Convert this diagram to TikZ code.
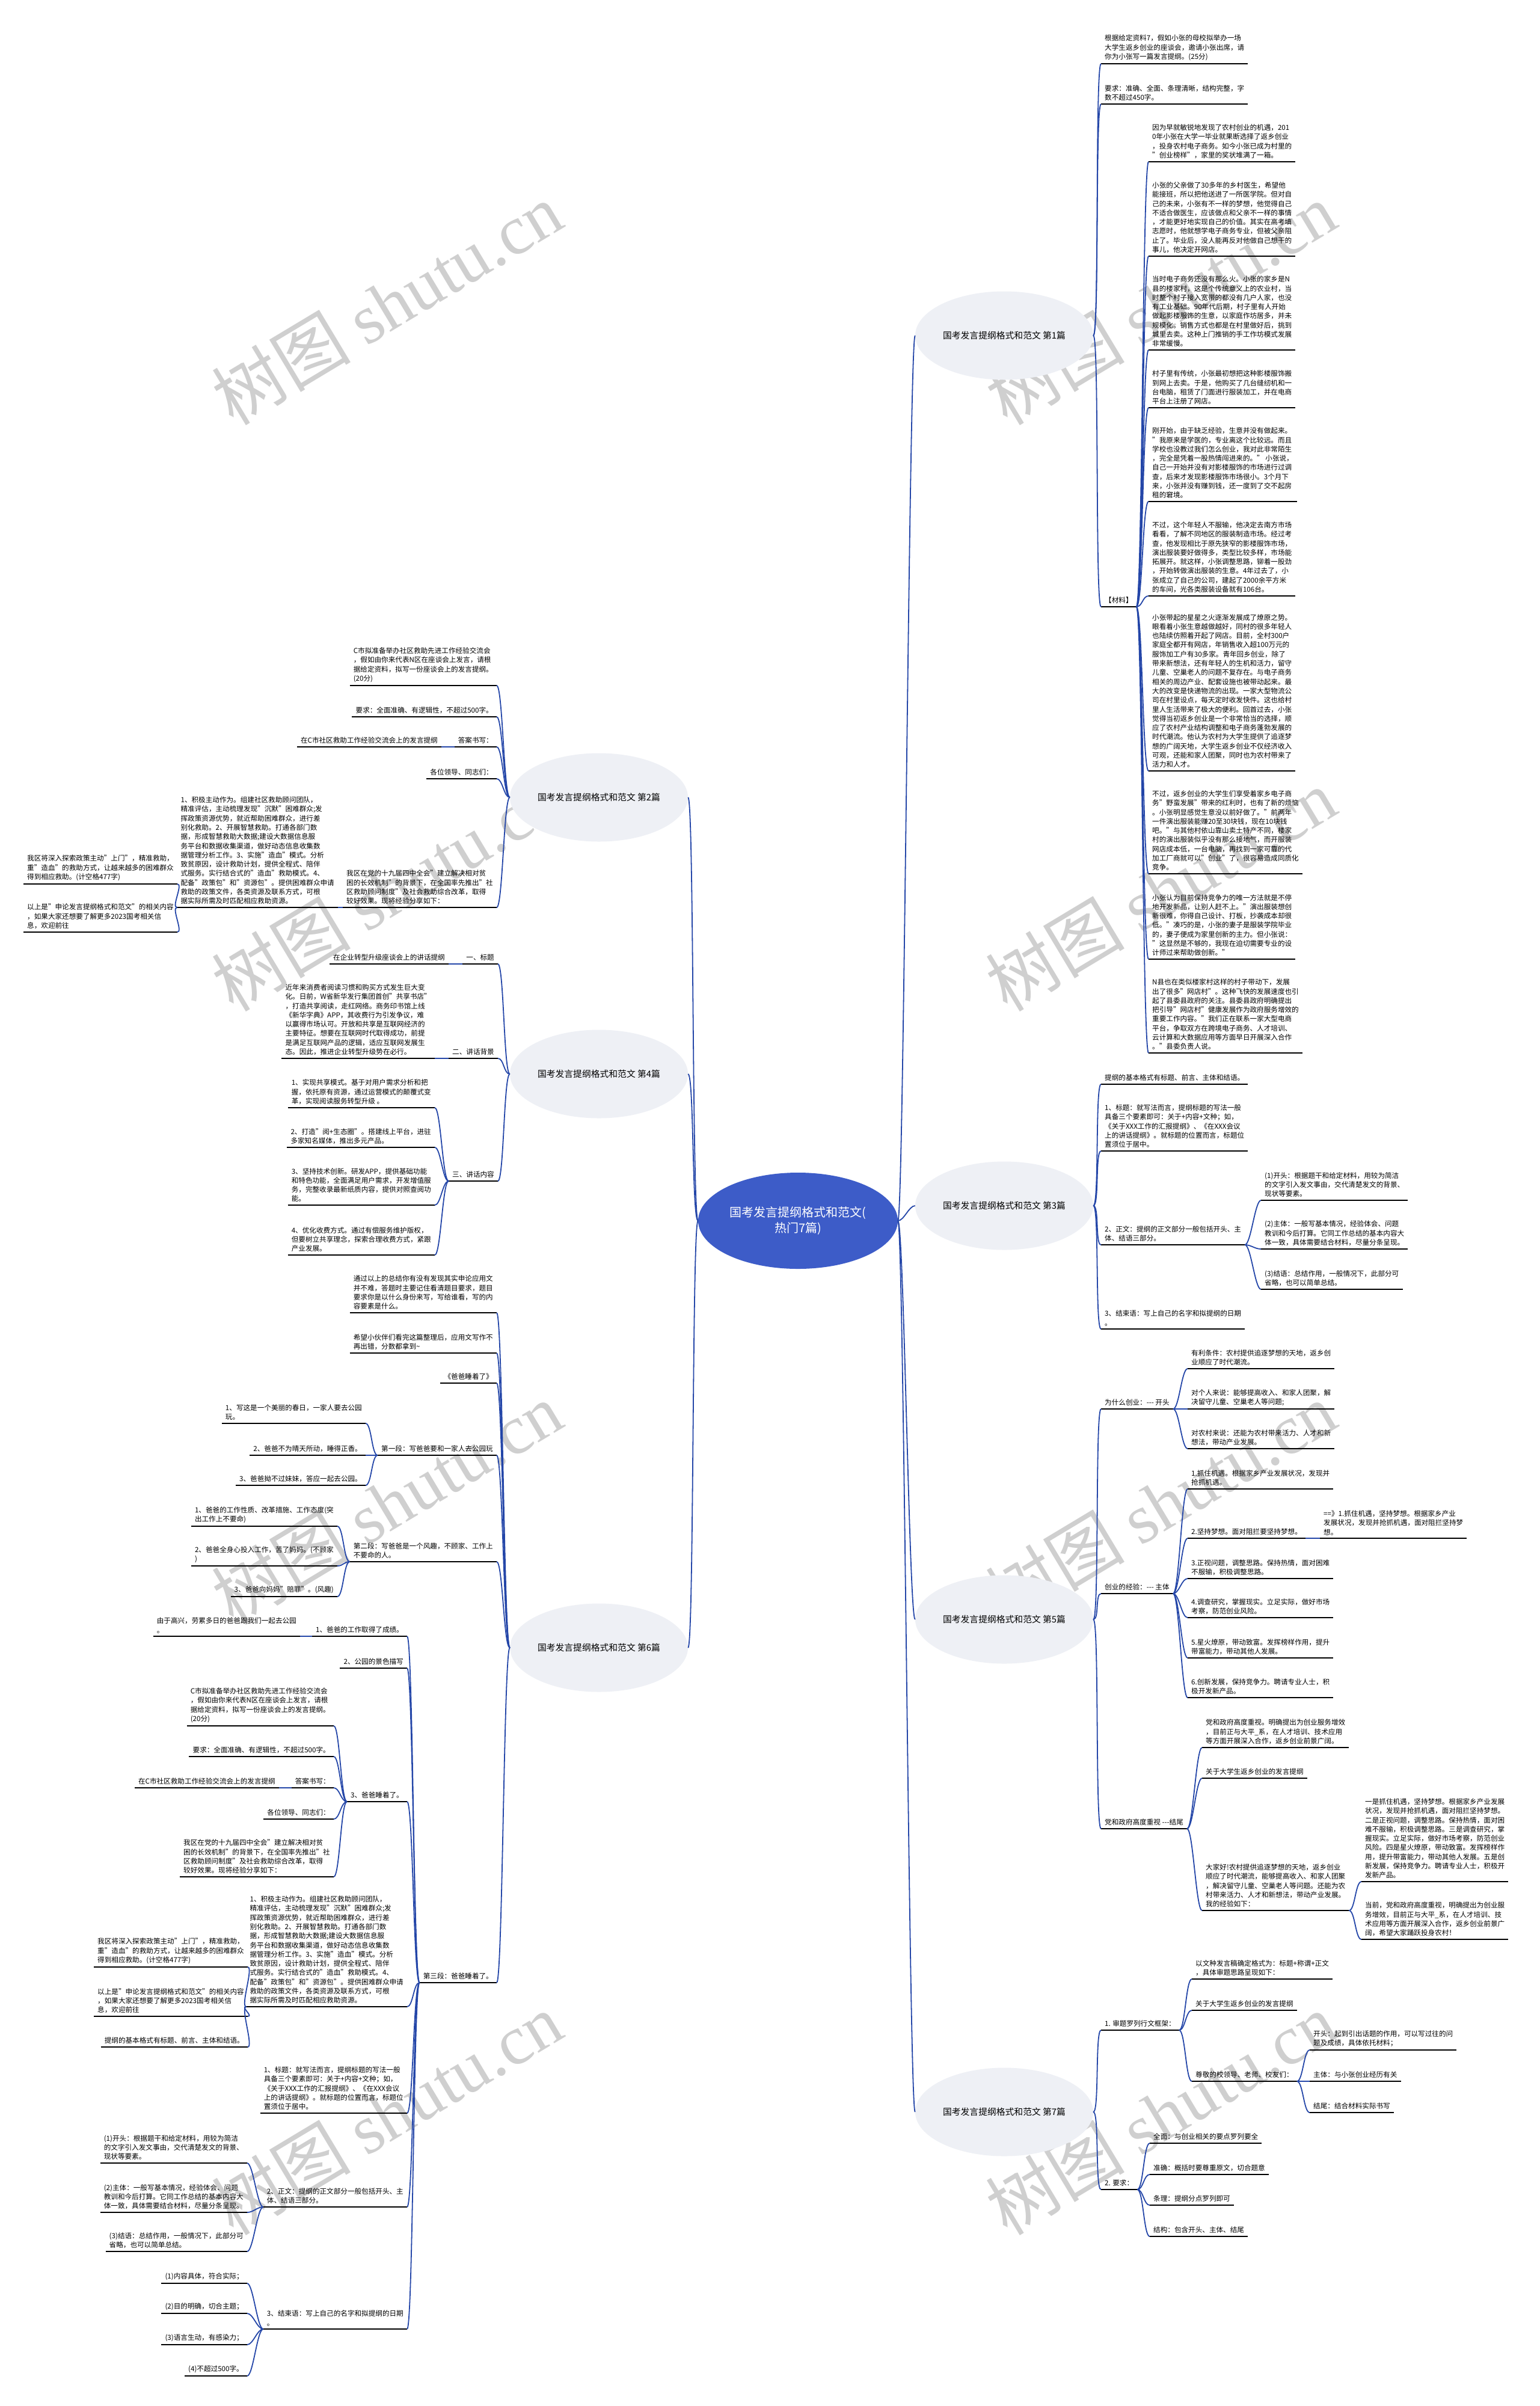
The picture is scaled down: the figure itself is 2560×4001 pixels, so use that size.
\documentclass[tikz,border=0pt]{standalone}
\usepackage{fontspec}
\setmainfont{Noto Sans CJK SC}
\newfontfamily\wmfont{Liberation Serif}
\usetikzlibrary{shapes.geometric}

\definecolor{rootblue}{HTML}{3D5CC8}
\definecolor{pianfill}{HTML}{EEF0F5}
\definecolor{linkblue}{HTML}{2446A8}

\newcommand{\tgGeshi}{提纲的基本格式有标题、前言、主体和结语。}
\newcommand{\tgBiaoti}{1、标题：就写法而言，提纲标题的写法一般\\
具备三个要素即可：关于+内容+文种；如，\\
《关于XXX工作的汇报提纲》、《在XXX会议\\
上的讲话提纲》。就标题的位置而言，标题位\\
置须位于居中。}
\newcommand{\tgZhengwen}{2、正文：提纲的正文部分一般包括开头、主\\
体、结语三部分。}
\newcommand{\tgKaitou}{(1)开头：根据题干和给定材料，用较为简洁\\
的文字引入发文事由，交代清楚发文的背景、\\
现状等要素。}
\newcommand{\tgZhuti}{(2)主体：一般写基本情况，经验体会、问题\\
教训和今后打算。它同工作总结的基本内容大\\
体一致，具体需要结合材料，尽量分条呈现。}
\newcommand{\tgJieyu}{(3)结语：总结作用，一般情况下，此部分可\\
省略，也可以简单总结。}
\newcommand{\tgJieshu}{3、结束语：写上自己的名字和拟提纲的日期\\
。}
\newcommand{\czTimu}{C市拟准备举办社区救助先进工作经验交流会\\
，假如由你来代表N区在座谈会上发言，请根\\
据给定资料，拟写一份座谈会上的发言提纲。\\
(20分)}
\newcommand{\czYaoqiu}{要求：全面准确、有逻辑性，不超过500字。}
\newcommand{\czTigang}{在C市社区救助工作经验交流会上的发言提纲}
\newcommand{\czBeijing}{我区在党的十九届四中全会"建立解决相对贫\\
困的长效机制"的背景下，在全国率先推出"社\\
区救助顾问制度"及社会救助综合改革，取得\\
较好效果。现将经验分享如下：}
\newcommand{\czJiji}{1、积极主动作为。组建社区救助顾问团队，\\
精准评估，主动梳理发现"沉默"困难群众;发\\
挥政策资源优势，就近帮助困难群众，进行差\\
别化救助。2、开展智慧救助。打通各部门数\\
据，形成智慧救助大数据;建设大数据信息服\\
务平台和数据收集渠道，做好动态信息收集数\\
据管理分析工作。3、实施"造血"模式。分析\\
致贫原因，设计救助计划，提供全程式、陪伴\\
式服务。实行结合式的"造血"救助模式。4、\\
配备"政策包"和"资源包"。提供困难群众申请\\
救助的政策文件，各类资源及联系方式，可根\\
据实际所需及时匹配相应救助资源。}
\newcommand{\czShenru}{我区将深入探索政策主动"上门"，精准救助，\\
重"造血"的救助方式，让越来越多的困难群众\\
得到相应救助。(计空格477字)}
\newcommand{\czYishang}{以上是"申论发言提纲格式和范文"的相关内容\\
，如果大家还想要了解更多2023国考相关信\\
息，欢迎前往}

\tikzset{
  root/.style={ellipse, fill=rootblue, text=white, minimum width=332pt,
    minimum height=160pt, inner sep=0pt, align=center,
    font=\fontsize{20}{26}\selectfont},
  pian/.style={ellipse, fill=pianfill, minimum width=296pt,
    minimum height=147pt, inner sep=0pt, font=\fontsize{14.8}{18}\selectfont},
  uline/.style={draw=black, line width=2pt},
  txt/.style={align=left, inner xsep=6pt, inner ysep=5pt,
    font=\fontsize{11.6}{15.3}\selectfont,
    append after command={(\tikzlastnode.south west) edge[uline] (\tikzlastnode.south east)}},
  txtR/.style={txt, anchor=south west},
  txtL/.style={txt, anchor=south east},
  link/.style={draw=linkblue, line width=1.8pt},
  linkR/.style={link, to path={.. controls +(10,0) and +(-10,0) .. (\tikztotarget)}},
  linkL/.style={link, to path={.. controls +(-10,0) and +(10,0) .. (\tikztotarget)}},
  wmark/.style={rotate=31, text=black!19, inner sep=0pt,
    font=\fontsize{116}{116}\selectfont}
}

\begin{document}
\begin{tikzpicture}[x=1pt,y=-1pt]

\fill[white] (0,0) rectangle (2560,4001);
\useasboundingbox (0,0) rectangle (2560,4001);

% watermark
\foreach \wx/\wy in {643/505,1930/505,643/1480,1930/1480,643/2500,1930/2500,643/3515,1930/3515}
  \node[wmark] at (\wx,\wy) {树图 {\wmfont shutu.cn}};

% centre and the seven branches
\node[root] (root) at (1327,2030) {国考发言提纲格式和范文(\\热门7篇)};
\node[pian] (p1) at (1670,558) {国考发言提纲格式和范文 第1篇};
\node[pian] (p3) at (1670,2005) {国考发言提纲格式和范文 第3篇};
\node[pian] (p5) at (1670,2693) {国考发言提纲格式和范文 第5篇};
\node[pian] (p7) at (1670,3512) {国考发言提纲格式和范文 第7篇};
\node[pian] (p2) at (996,1326) {国考发言提纲格式和范文 第2篇};
\node[pian] (p4) at (996,1786) {国考发言提纲格式和范文 第4篇};
\node[pian] (p6) at (996,2740) {国考发言提纲格式和范文 第6篇};

\foreach \c in {p1,p3,p5,p7} \draw[linkR] (root.east) to (\c.west);
\foreach \c in {p2,p4,p6} \draw[linkL] (root.west) to (\c.east);

% ---- 第1篇
\node[txtR] (p1a) at (1831,106) {根据给定资料7，假如小张的母校拟举办一场\\
大学生返乡创业的座谈会，邀请小张出席，请\\
你为小张写一篇发言提纲。(25分)};
\node[txtR] (p1b) at (1831,173) {要求：准确、全面、条理清晰，结构完整，字\\
数不超过450字。};
\node[txtR] (p1m) at (1831,1009) {【材料】};

\node[txtR] (m1) at (1910,269) {因为早就敏锐地发现了农村创业的机遇，201\\
0年小张在大学一毕业就果断选择了返乡创业\\
，投身农村电子商务。如今小张已成为村里的\\
"创业榜样"，家里的奖状堆满了一箱。};
\node[txtR] (m2) at (1910,426) {小张的父亲做了30多年的乡村医生，希望他\\
能接班，所以把他送进了一所医学院。但对自\\
己的未来，小张有不一样的梦想，他觉得自己\\
不适合做医生，应该做点和父亲不一样的事情\\
，才能更好地实现自己的价值。其实在高考填\\
志愿时，他就想学电子商务专业，但被父亲阻\\
止了。毕业后，没人能再反对他做自己想干的\\
事儿，他决定开网店。};
\node[txtR] (m3) at (1910,582) {当时电子商务还没有那么火。小张的家乡是N\\
县的楼家村，这是个传统意义上的农业村，当\\
时整个村子接入宽带的都没有几户人家，也没\\
有工业基础。90年代后期，村子里有人开始\\
做起影楼服饰的生意，以家庭作坊居多，并未\\
规模化。销售方式也都是在村里做好后，挑到\\
城里去卖。这种上门推销的手工作坊模式发展\\
非常缓慢。};
\node[txtR] (m4) at (1910,678) {村子里有传统，小张最初想把这种影楼服饰搬\\
到网上去卖。于是，他购买了几台缝纫机和一\\
台电脑，租赁了门面进行服装加工，并在电商\\
平台上注册了网店。};
\node[txtR] (m5) at (1910,834) {刚开始，由于缺乏经验，生意并没有做起来。\\
"我原来是学医的，专业离这个比较远。而且\\
学校也没教过我们怎么创业，我对此非常陌生\\
，完全是凭着一股热情闯进来的。" 小张说，\\
自己一开始并没有对影楼服饰的市场进行过调\\
查，后来才发现影楼服饰市场很小。3个月下\\
来，小张并没有赚到钱，还一度到了交不起房\\
租的窘境。};
\node[txtR] (m6) at (1910,991) {不过，这个年轻人不服输，他决定去南方市场\\
看看，了解不同地区的服装制造市场。经过考\\
查，他发现相比于原先狭窄的影楼服饰市场，\\
演出服装要好做得多，类型比较多样，市场能\\
拓展开。就这样，小张调整思路，铆着一股劲\\
，开始转做演出服装的生意。4年过去了，小\\
张成立了自己的公司，建起了2000余平方米\\
的车间，光各类服装设备就有106台。};
\node[txtR] (m7) at (1910,1282) {小张带起的星星之火逐渐发展成了燎原之势。\\
眼看着小张生意越做越好，同村的很多年轻人\\
也陆续仿照着开起了网店。目前，全村300户\\
家庭全都开有网店，年销售收入超100万元的\\
服饰加工户有30多家。青年回乡创业，除了\\
带来新想法，还有年轻人的生机和活力，留守\\
儿童、空巢老人的问题不复存在。与电子商务\\
相关的周边产业、配套设施也被带动起来。最\\
大的改变是快递物流的出现。一家大型物流公\\
司在村里设点，每天定时收发快件。这也给村\\
里人生活带来了极大的便利。回首过去，小张\\
觉得当初返乡创业是一个非常恰当的选择，顺\\
应了农村产业结构调整和电子商务蓬勃发展的\\
时代潮流。他认为农村为大学生提供了追逐梦\\
想的广阔天地，大学生返乡创业不仅经济收入\\
可观，还能和家人团聚，同时也为农村带来了\\
活力和人才。};
\node[txtR] (m8) at (1910,1453) {不过，返乡创业的大学生们享受着家乡电子商\\
务"野蛮发展"带来的红利时，也有了新的烦恼\\
。小张明显感觉生意没以前好做了。"前两年\\
一件演出服装能赚20至30块钱，现在10块钱\\
吧。"与其他村依山靠山卖土特产不同，楼家\\
村的演出服装似乎没有那么接地气，而开服装\\
网店成本低，一台电脑，再找到一家可靠的代\\
加工厂商就可以"创业"了，很容易造成同质化\\
竞争。};
\node[txtR] (m9) at (1910,1595) {小张认为目前保持竞争力的唯一方法就是不停\\
地开发新品，让别人赶不上。"演出服装想创\\
新很难，你得自己设计、打板，抄袭成本却很\\
低。"凑巧的是，小张的妻子是服装学院毕业\\
的，妻子便成为家里创新的主力。但小张说：\\
"这显然是不够的，我现在迫切需要专业的设\\
计师过来帮助做创新。"};
\node[txtR] (m10) at (1910,1751) {N县也在类似楼家村这样的村子带动下，发展\\
出了很多"网店村"。这种飞快的发展速度也引\\
起了县委县政府的关注。县委县政府明确提出\\
把引导"网店村"健康发展作为政府服务增效的\\
重要工作内容。"我们正在联系一家大型电商\\
平台，争取双方在跨境电子商务、人才培训、\\
云计算和大数据应用等方面早日开展深入合作\\
。"县委负责人说。};

\foreach \c in {p1a,p1b,p1m} \draw[linkR] (p1.east) to (\c.south west);
\foreach \c in {m1,m2,m3,m4,m5,m6,m7,m8,m9,m10} \draw[linkR] (p1m.south east) to (\c.south west);

% ---- 第3篇
\node[txtR] (p3a) at (1831,1803) {\tgGeshi};
\node[txtR] (p3b) at (1831,1914) {\tgBiaoti};
\node[txtR] (p3c) at (1831,2070) {\tgZhengwen};
\node[txtR] (p3d) at (1831,2210) {\tgJieshu};
\node[txtR] (p3c1) at (2097,1996) {\tgKaitou};
\node[txtR] (p3c2) at (2097,2077) {\tgZhuti};
\node[txtR] (p3c3) at (2097,2144) {\tgJieyu};

\foreach \c in {p3a,p3b,p3c,p3d} \draw[linkR] (p3.east) to (\c.south west);
\foreach \c in {p3c1,p3c2,p3c3} \draw[linkR] (p3c.south east) to (\c.south west);

% ---- 第5篇
\node[txtR] (p5a) at (1831,2343) {为什么创业：-{}-{}- 开头};
\node[txtR] (p5b) at (1831,2650) {创业的经验：-{}-{}- 主体};
\node[txtR] (p5c) at (1831,3041) {党和政府高度重视 -{}-{}-结尾};

\node[txtR] (p5a1) at (1975,2276) {有利条件：农村提供追逐梦想的天地，返乡创\\
业顺应了时代潮流。};
\node[txtR] (p5a2) at (1975,2343) {对个人来说：能够提高收入、和家人团聚，解\\
决留守儿童、空巢老人等问题;};
\node[txtR] (p5a3) at (1975,2409) {对农村来说：还能为农村带来活力、人才和新\\
想法，带动产业发展。};

\node[txtR] (p5b1) at (1975,2476) {1.抓住机遇。根据家乡产业发展状况，发现并\\
抢抓机遇。};
\node[txtR] (p5b2) at (1975,2558) {2.坚持梦想。面对阻拦要坚持梦想。};
\node[txtR] (p5b3) at (1975,2625) {3.正视问题，调整思路。保持热情，面对困难\\
不服输，积极调整思路。};
\node[txtR] (p5b4) at (1975,2690) {4.调查研究，掌握现实。立足实际，做好市场\\
考察，防范创业风险。};
\node[txtR] (p5b5) at (1975,2757) {5.星火燎原，带动致富。发挥榜样作用，提升\\
带富能力，带动其他人发展。};
\node[txtR] (p5b6) at (1975,2823) {6.创新发展，保持竞争力。聘请专业人士，积\\
极开发新产品。};
\node[txtR] (p5b2a) at (2195,2558) {==》1.抓住机遇，坚持梦想。根据家乡产业\\
发展状况，发现并抢抓机遇，面对阻拦坚持梦\\
想。};

\node[txtR] (p5c1) at (1999,2906) {党和政府高度重视。明确提出为创业服务增效\\
，目前正与大平\_系，在人才培训、技术应用\\
等方面开展深入合作，返乡创业前景广阔。};
\node[txtR] (p5c2) at (1999,2957) {关于大学生返乡创业的发言提纲};
\node[txtR] (p5c3) at (1999,3177) {大家好!农村提供追逐梦想的天地，返乡创业\\
顺应了时代潮流，能够提高收入、和家人团聚\\
，解决留守儿童、空巢老人等问题。还能为农\\
村带来活力、人才和新想法，带动产业发展。\\
我的经验如下：};
\node[txtR] (p5c3a) at (2264,3129) {一是抓住机遇，坚持梦想。根据家乡产业发展\\
状况，发现并抢抓机遇，面对阻拦坚持梦想。\\
二是正视问题，调整思路。保持热情，面对困\\
难不服输，积极调整思路。三是调查研究，掌\\
握现实。立足实际，做好市场考察，防范创业\\
风险。四是星火燎原，带动致富。发挥榜样作\\
用，提升带富能力，带动其他人发展。五是创\\
新发展，保持竞争力。聘请专业人士，积极开\\
发新产品。};
\node[txtR] (p5c3b) at (2264,3225) {当前，党和政府高度重视，明确提出为创业服\\
务增效，目前正与大平\_系，在人才培训、技\\
术应用等方面开展深入合作，返乡创业前景广\\
阔，希望大家踊跃投身农村！};

\foreach \c in {p5a,p5b,p5c} \draw[linkR] (p5.east) to (\c.south west);
\foreach \c in {p5a1,p5a2,p5a3} \draw[linkR] (p5a.south east) to (\c.south west);
\foreach \c in {p5b1,p5b2,p5b3,p5b4,p5b5,p5b6} \draw[linkR] (p5b.south east) to (\c.south west);
\draw[linkR] (p5b2.south east) to (p5b2a.south west);
\foreach \c in {p5c1,p5c2,p5c3} \draw[linkR] (p5c.south east) to (\c.south west);
\foreach \c in {p5c3a,p5c3b} \draw[linkR] (p5c3.south east) to (\c.south west);

% ---- 第7篇
\node[txtR] (p7a) at (1831,3376) {1. 审题罗列行文框架：};
\node[txtR] (p7b) at (1831,3641) {2. 要求：};
\node[txtR] (p7a1) at (1982,3291) {以文种发言稿确定格式为：标题+称谓+正文\\
，具体审题思路呈现如下：};
\node[txtR] (p7a2) at (1982,3343) {关于大学生返乡创业的发言提纲};
\node[txtR] (p7a3) at (1982,3461) {尊敬的校领导、老师、校友们：};
\node[txtR] (p7a3a) at (2178,3409) {开头：起到引出话题的作用，可以写过往的问\\
题及成绩，具体依托材料；};
\node[txtR] (p7a3b) at (2178,3461) {主体：与小张创业经历有关};
\node[txtR] (p7a3c) at (2178,3513) {结尾：结合材料实际书写};
\node[txtR] (p7b1) at (1912,3564) {全面：与创业相关的要点罗列要全};
\node[txtR] (p7b2) at (1912,3616) {准确：概括时要尊重原文，切合题意};
\node[txtR] (p7b3) at (1912,3667) {条理：提纲分点罗列即可};
\node[txtR] (p7b4) at (1912,3719) {结构：包含开头、主体、结尾};

\foreach \c in {p7a,p7b} \draw[linkR] (p7.east) to (\c.south west);
\foreach \c in {p7a1,p7a2,p7a3} \draw[linkR] (p7a.south east) to (\c.south west);
\foreach \c in {p7a3a,p7a3b,p7a3c} \draw[linkR] (p7a3.south east) to (\c.south west);
\foreach \c in {p7b1,p7b2,p7b3,p7b4} \draw[linkR] (p7b.south east) to (\c.south west);

% ---- 第2篇
\node[txtL] (p2a) at (826,1140) {\czTimu};
\node[txtL] (p2b) at (826,1192) {\czYaoqiu};
\node[txtL] (p2c) at (826,1242) {答案书写：};
\node[txtL] (p2d) at (826,1295) {各位领导、同志们：};
\node[txtL] (p2e) at (826,1509) {\czBeijing};
\node[txtL] (p2c1) at (734,1242) {\czTigang};
\node[txtL] (p2e1) at (562,1509) {\czJiji};
\node[txtL] (p2e1a) at (295,1470) {\czShenru};
\node[txtL] (p2e1b) at (295,1550) {\czYishang};

\foreach \c in {p2a,p2b,p2c,p2d,p2e} \draw[linkL] (p2.west) to (\c.south east);
\draw[linkL] (p2c.south west) to (p2c1.south east);
\draw[linkL] (p2e.south west) to (p2e1.south east);
\foreach \c in {p2e1a,p2e1b} \draw[linkL] (p2e1.south west) to (\c.south east);

% ---- 第4篇
\node[txtL] (p4a) at (828,1603) {一、标题};
\node[txtL] (p4b) at (828,1760) {二、讲话背景};
\node[txtL] (p4c) at (828,1964) {三、讲话内容};
\node[txtL] (p4a1) at (746,1603) {在企业转型升级座谈会上的讲话提纲};
\node[txtL] (p4b1) at (723,1760) {近年来消费者阅读习惯和购买方式发生巨大变\\
化。日前，W省新华发行集团首创"共享书店"\\
，打造共享阅读，走红网络。商务印书馆上线\\
《新华字典》APP，其收费行为引发争议，难\\
以赢得市场认可。开放和共享是互联网经济的\\
主要特征。想要在互联网时代取得成功，前提\\
是满足互联网产品的逻辑，适应互联网发展生\\
态。因此，推进企业转型升级势在必行。};
\node[txtL] (p4c1) at (723,1842) {1、实现共享模式。基于对用户需求分析和把\\
握，依托原有资源，通过运营模式的颠覆式变\\
革，实现阅读服务转型升级 。};
\node[txtL] (p4c2) at (723,1908) {2、打造"阅+生态圈"。搭建线上平台，进驻\\
多家知名媒体，推出多元产品。};
\node[txtL] (p4c3) at (723,2004) {3、坚持技术创新。研发APP，提供基础功能\\
和特色功能，全面满足用户需求，开发增值服\\
务，完整收录最新纸质内容，提供对照查阅功\\
能。};
\node[txtL] (p4c4) at (723,2087) {4、优化收费方式。通过有偿服务维护版权，\\
但要树立共享理念，探索合理收费方式，紧跟\\
产业发展。};

\foreach \c in {p4a,p4b,p4c} \draw[linkL] (p4.west) to (\c.south east);
\draw[linkL] (p4a.south west) to (p4a1.south east);
\draw[linkL] (p4b.south west) to (p4b1.south east);
\foreach \c in {p4c1,p4c2,p4c3,p4c4} \draw[linkL] (p4c.south west) to (\c.south east);

% ---- 第6篇
\node[txtL] (p6a) at (826,2183) {通过以上的总结你有没有发现其实申论应用文\\
并不难，答题时主要记住看清题目要求，题目\\
要求你是以什么身份来写，写给谁看，写的内\\
容要素是什么。};
\node[txtL] (p6b) at (826,2250) {希望小伙伴们看完这篇整理后，应用文写作不\\
再出错，分数都拿到\textasciitilde};
\node[txtL] (p6c) at (826,2300) {《爸爸睡着了》};
\node[txtL] (p6d) at (826,2420) {第一段：写爸爸要和一家人去公园玩};
\node[txtL] (p6e) at (826,2597) {第二段：写爸爸是一个风趣，不顾家、工作上\\
不要命的人。};
\node[txtL] (p6f) at (826,3297) {第三段：爸爸睡着了。};

\node[txtL] (p6d1) at (608,2367) {1、写这是一个美丽的春日，一家人要去公园\\
玩。};
\node[txtL] (p6d2) at (608,2420) {2、爸爸不为晴天所动，睡得正香。};
\node[txtL] (p6d3) at (608,2470) {3、爸爸拗不过妹妹，答应一起去公园。};
\node[txtL] (p6e1) at (561,2538) {1、爸爸的工作性质、改革措施、工作态度(突\\
出工作上不要命)};
\node[txtL] (p6e2) at (561,2604) {2、爸爸全身心投入工作，苦了妈妈。(不顾家\\
)};
\node[txtL] (p6e3) at (561,2655) {3、爸爸向妈妈"赔罪"。(风趣)};

\node[txtL] (p6f1) at (677,2721) {1、爸爸的工作取得了成绩。};
\node[txtL] (p6f1a) at (499,2721) {由于高兴，劳累多日的爸爸跟我们一起去公园\\
。};
\node[txtL] (p6f2) at (677,2774) {2、公园的景色描写};
\node[txtL] (p6f3) at (677,2996) {3、爸爸睡着了。};
\node[txtL] (p6f3a) at (555,2870) {\czTimu};
\node[txtL] (p6f3b) at (555,2921) {\czYaoqiu};
\node[txtL] (p6f3c) at (555,2973) {答案书写：};
\node[txtL] (p6f3c1) at (464,2973) {\czTigang};
\node[txtL] (p6f3d) at (555,3025) {各位领导、同志们：};
\node[txtL] (p6f3e) at (555,3121) {\czBeijing};
\node[txtL] (p6f4) at (677,3337) {\czJiji};
\node[txtL] (p6f4a) at (412,3271) {\czShenru};
\node[txtL] (p6f4b) at (412,3353) {\czYishang};
\node[txtL] (p6f4c) at (412,3404) {\tgGeshi};
\node[txtL] (p6f5) at (677,3514) {\tgBiaoti};
\node[txtL] (p6f6) at (677,3670) {\tgZhengwen};
\node[txtL] (p6f6a) at (411,3597) {\tgKaitou};
\node[txtL] (p6f6b) at (411,3679) {\tgZhuti};
\node[txtL] (p6f6c) at (411,3744) {\tgJieyu};
\node[txtL] (p6f7) at (677,3873) {\tgJieshu};
\node[txtL] (p6f7a) at (411,3797) {(1)内容具体，符合实际；};
\node[txtL] (p6f7b) at (411,3847) {(2)目的明确，切合主题；};
\node[txtL] (p6f7c) at (411,3899) {(3)语言生动，有感染力；};
\node[txtL] (p6f7d) at (411,3951) {(4)不超过500字。};

\foreach \c in {p6a,p6b,p6c,p6d,p6e,p6f} \draw[linkL] (p6.west) to (\c.south east);
\foreach \c in {p6d1,p6d2,p6d3} \draw[linkL] (p6d.south west) to (\c.south east);
\foreach \c in {p6e1,p6e2,p6e3} \draw[linkL] (p6e.south west) to (\c.south east);
\foreach \c in {p6f1,p6f2,p6f3,p6f4,p6f5,p6f6,p6f7} \draw[linkL] (p6f.south west) to (\c.south east);
\draw[linkL] (p6f1.south west) to (p6f1a.south east);
\foreach \c in {p6f3a,p6f3b,p6f3c,p6f3d,p6f3e} \draw[linkL] (p6f3.south west) to (\c.south east);
\draw[linkL] (p6f3c.south west) to (p6f3c1.south east);
\foreach \c in {p6f4a,p6f4b,p6f4c} \draw[linkL] (p6f4.south west) to (\c.south east);
\foreach \c in {p6f6a,p6f6b,p6f6c} \draw[linkL] (p6f6.south west) to (\c.south east);
\foreach \c in {p6f7a,p6f7b,p6f7c,p6f7d} \draw[linkL] (p6f7.south west) to (\c.south east);

\end{tikzpicture}
\end{document}
